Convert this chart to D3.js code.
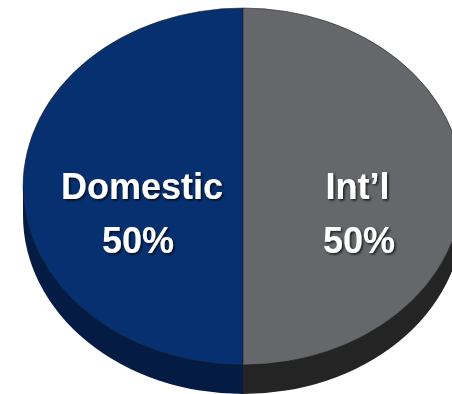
<!DOCTYPE html>
<html><head><meta charset="utf-8">
<script src="https://cdn.jsdelivr.net/npm/d3@7"></script>
<style>html,body{margin:0;padding:0;background:#fff;overflow:hidden}</style>
</head><body>
<svg id="c" width="452" height="394"></svg>
<script>
const categories = ["Domestic", "Int\u2019l"];
const values = [50, 50];
const percentLabels = ["50%", "50%"];
const topColors = ["#06306f", "#65676b"];
const sideColors = ["#03183a", "#262627"];

const W = 452, H = 394;
const cx = 243, cy = 186.5, rx = 220, ry = 178.5, depth = 29;

const svg = d3.select("#c");
const defs = svg.append("defs");
const f = defs.append("filter").attr("id","ts").attr("x","-20%").attr("y","-20%").attr("width","140%").attr("height","140%");
f.append("feDropShadow").attr("dx",1.5).attr("dy",1.5).attr("stdDeviation",0.8).attr("flood-color","#000").attr("flood-opacity",0.75);

// horizontal shading of the side wall: lighter toward outer edges
sideColors.forEach((c,i)=>{
  const g = defs.append("linearGradient").attr("id","side"+i)
    .attr("gradientUnits","userSpaceOnUse")
    .attr("x1", i === 0 ? cx - rx : cx).attr("y1", 0)
    .attr("x2", i === 0 ? cx : cx + rx).attr("y2", 0);
  const outer = d3.color(c).brighter(0.45).formatHex();
  const inner = d3.color(c).darker(0.15).formatHex();
  g.append("stop").attr("offset","0%").attr("stop-color", i === 0 ? outer : inner);
  g.append("stop").attr("offset","100%").attr("stop-color", i === 0 ? inner : outer);
});

const pie = d3.pie().sort(null).startAngle(Math.PI).endAngle(3*Math.PI);
const arcs = pie(values);
const arc = d3.arc().innerRadius(0).outerRadius(1);

// side (bottom ellipse + wall)
const sideG = svg.append("g");
arcs.forEach((a,i)=>{
  sideG.append("path")
    .attr("d", arc(a))
    .attr("transform", `translate(${cx},${cy+depth}) scale(${rx},${ry})`)
    .attr("fill", `url(#side${i})`);
  const x0 = i === 0 ? cx - rx : cx;
  sideG.append("rect")
    .attr("x", x0).attr("y", cy).attr("width", rx).attr("height", depth + 1)
    .attr("fill", `url(#side${i})`);
});

// top face
const topG = svg.append("g").attr("transform", `translate(${cx},${cy}) scale(${rx},${ry})`);
topG.selectAll("path").data(arcs).join("path")
  .attr("d", arc)
  .attr("fill", (d,i)=>topColors[i])
  .attr("stroke", "#1a1a1a")
  .attr("stroke-opacity", 0.55)
  .attr("stroke-width", 1)
  .attr("vector-effect", "non-scaling-stroke");

// labels
const labelPos = [{x:142, x2:138}, {x:357.5, x2:359}];
const lg = svg.append("g").attr("font-family","'Liberation Sans', Arial, sans-serif")
  .attr("font-weight","bold").attr("font-size",36).attr("fill","#fff")
  .attr("text-anchor","middle").attr("filter","url(#ts)");
categories.forEach((c,i)=>{
  lg.append("text").attr("x", labelPos[i].x).attr("y", 199).text(c);
  lg.append("text").attr("x", labelPos[i].x2).attr("y", 253).text(percentLabels[i]);
});
</script>
</body></html>
